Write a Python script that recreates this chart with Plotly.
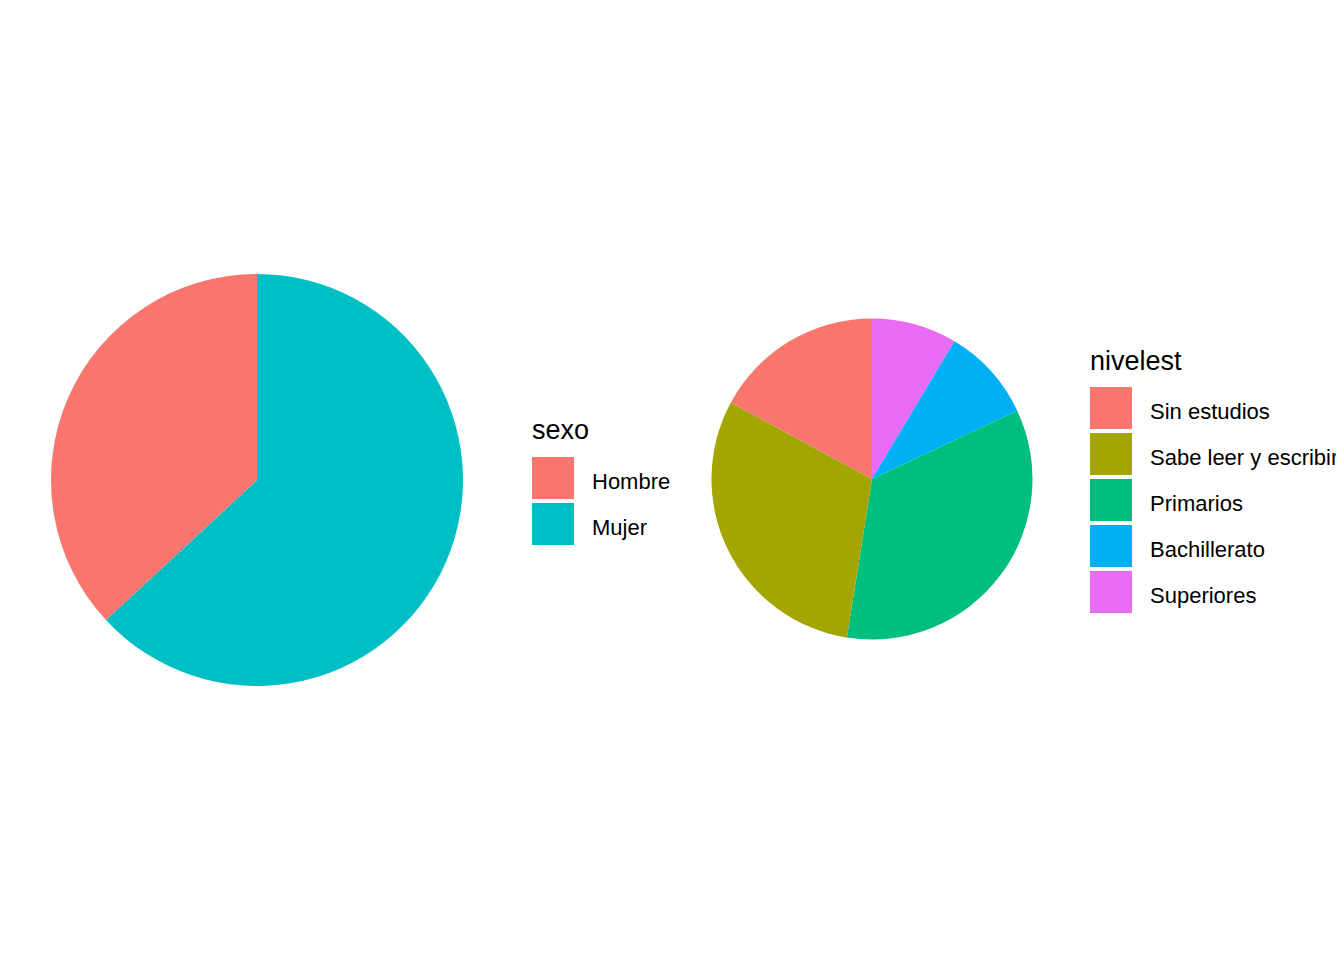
import plotly.graph_objects as go

W, H = 1344, 960
OFF = 8  # page body margin

# Data
sexo_labels = ["Hombre", "Mujer"]
sexo_values = [36.9, 63.1]
sexo_colors = ["#F8766D", "#00BFC4"]

nivel_labels = ["Sin estudios", "Sabe leer y escribir", "Primarios", "Bachillerato", "Superiores"]
nivel_values = [17.1, 30.4, 34.5, 9.4, 8.6]
nivel_colors = ["#F8766D", "#A3A500", "#00BF7D", "#00B0F6", "#E76BF3"]


def px_x(x):
    return (x - OFF) / W


def px_y(y):
    return 1 - (y - OFF) / H


def pie_domain(cx, cy, r):
    return dict(x=[px_x(cx - r), px_x(cx + r)], y=[px_y(cy + r), px_y(cy - r)])


fig = go.Figure()
# ggplot stacks the first level last when going clockwise from 12 o'clock
fig.add_trace(go.Pie(
    labels=sexo_labels[::-1], values=sexo_values[::-1], sort=False, direction="clockwise",
    rotation=0, marker=dict(colors=sexo_colors[::-1], line=dict(width=0)),
    textinfo="none", showlegend=False, domain=pie_domain(257, 480, 206),
))
fig.add_trace(go.Pie(
    labels=nivel_labels[::-1], values=nivel_values[::-1], sort=False, direction="clockwise",
    rotation=0, marker=dict(colors=nivel_colors[::-1], line=dict(width=0)),
    textinfo="none", showlegend=False, domain=pie_domain(872, 479, 160.5),
))

shapes = []
annotations = []
FONT = "Liberation Sans, Arial, sans-serif"


def add_legend(title, labels, colors, key_x, key_y0, title_baseline):
    annotations.append(dict(
        x=px_x(key_x - 2), y=px_y(title_baseline - 8), xref="paper", yref="paper",
        text=title, showarrow=False, xanchor="left", yanchor="middle",
        font=dict(family=FONT, size=27, color="black"),
    ))
    for i, (lab, col) in enumerate(zip(labels, colors)):
        y0 = key_y0 + i * 46
        shapes.append(dict(
            type="rect", xref="paper", yref="paper",
            x0=px_x(key_x), x1=px_x(key_x + 42), y0=px_y(y0 + 42), y1=px_y(y0),
            fillcolor=col, line=dict(width=0),
        ))
        annotations.append(dict(
            x=px_x(key_x + 58), y=px_y(y0 + 21 + 3), xref="paper", yref="paper",
            text=lab, showarrow=False, xanchor="left", yanchor="middle",
            font=dict(family=FONT, size=22, color="black"),
        ))


add_legend("sexo", sexo_labels, sexo_colors, 532, 457, 438)
add_legend("nivelest", nivel_labels, nivel_colors, 1090, 387, 369)

fig.update_layout(
    width=W, height=H, margin=dict(l=0, r=0, t=0, b=0),
    paper_bgcolor="white", plot_bgcolor="white",
    shapes=shapes, annotations=annotations,
)

fig.write_html("out.html")
